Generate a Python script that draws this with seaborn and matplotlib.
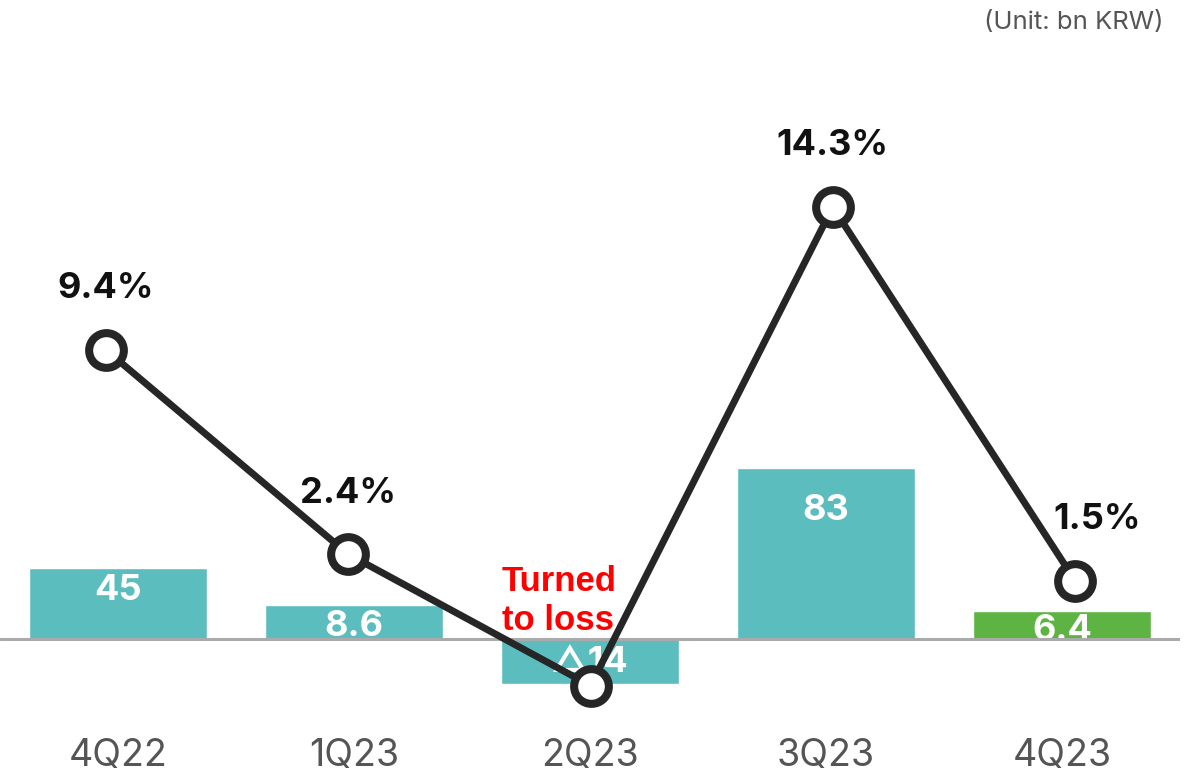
import numpy as np
import pandas as pd
import matplotlib
matplotlib.use("Agg")
import matplotlib.pyplot as plt
import seaborn as sns

# Operating profit (bn KRW) and operating margin (%) by quarter
quarters = ["4Q22", "1Q23", "2Q23", "3Q23", "4Q23"]
profit_labels = ["45", "8.6", "△14", "83", "6.4"]
# the source chart is not drawn to scale, so bar heights are read off the picture
bar_heights = [71, 34, -45, 171, 28]
margin = [9.4, 2.4, -2.1, 14.3, 1.5]
margin_labels = ["9.4%", "2.4%", "", "14.3%", "1.5%"]
bar_colors = ["#5bbdbe", "#5bbdbe", "#5bbdbe", "#5bbdbe", "#5db443"]

sns.set_theme(style="white")
plt.rcParams["font.family"] = ["Inter", "DejaVu Sans"]

W, H = 1190, 779
fig = plt.figure(figsize=(W / 100, H / 100), dpi=100)
ax_bottom_px = 710
rect = [0, (H - ax_bottom_px) / H, 1180 / W, ax_bottom_px / H]
ax = fig.add_axes(rect)

df = pd.DataFrame({"quarter": quarters, "height": bar_heights})
sns.barplot(data=df, x="quarter", y="height", hue="quarter", palette=bar_colors,
            width=0.755, legend=False, ax=ax, saturation=1)
ax.set_xlim(-0.5, 4.5)
ax.set_ylim(-(ax_bottom_px - 639), 639)

# white value labels inside the bars
drops = [22, 22, 23, 43, 19]
for i, (h, lab) in enumerate(zip(bar_heights, profit_labels)):
    ax.annotate(lab, (i, max(h, 0)), xytext=(0, -drops[i] * 0.72), textcoords="offset points",
                ha="center", va="center", color="white", fontsize=26, fontweight="bold",
                family=["Inter", "DejaVu Sans"], zorder=3)

ax.axhline(0, color="#aaaaaa", lw=2.2, zorder=4)
ax.text(1.627, 38, "Turned\nto loss", color="#ff0000", fontsize=25, fontweight="bold",
        family="Liberation Sans", ha="left", va="center", linespacing=1.2, zorder=4)

ax.set_xlabel("")
ax.set_ylabel("")
ax.set_yticks([])
ax.tick_params(axis="x", length=0, pad=20, labelsize=27, labelcolor="#555555")
for s in ax.spines.values():
    s.set_visible(False)

# margin line on an overlay axes
ax2 = fig.add_axes(rect, facecolor="none")
sns.lineplot(x=np.arange(len(quarters)), y=margin, ax=ax2, color="#262626", linewidth=5,
             marker="o", markersize=25, markerfacecolor="white", markeredgecolor="#262626",
             markeredgewidth=5.8, clip_on=False)
ax2.set_xlim(-0.4376, 4.4334)
ax2.set_ylim(-85.7 / 29.18, (ax_bottom_px - 85.7) / 29.18)
for i, lab in enumerate(margin_labels):
    if not lab:
        continue
    dx = 16 if i == 4 else 0
    ax2.annotate(lab, (i, margin[i]), xytext=(dx, 44), textcoords="offset points",
                 ha="center", va="center", fontsize=26, fontweight="bold", color="#111111")
ax2.axis("off")

fig.text(1163 / W, 1 - 23 / H, "(Unit: bn KRW)", ha="right", va="center",
         fontsize=18.5, color="#555555")

fig.savefig("out.png", dpi=100)
